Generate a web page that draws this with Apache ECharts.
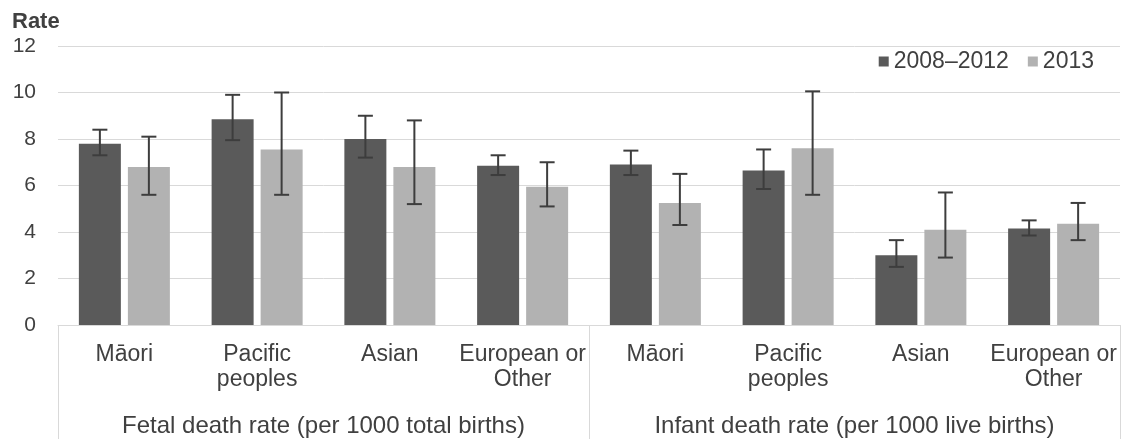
<!DOCTYPE html>
<html>
<head>
<meta charset="utf-8">
<script src="https://cdn.jsdelivr.net/npm/echarts@6/dist/echarts.min.js"></script>
<style>
  html, body { margin: 0; padding: 0; background: #ffffff; }
  #chart { width: 1122px; height: 439px; }
</style>
</head>
<body>
<div id="chart"></div>
<script>
// ---- data ----
var categories = ['Māori', 'Pacific\npeoples', 'Asian', 'European or\nOther',
                  'Māori', 'Pacific\npeoples', 'Asian', 'European or\nOther'];
var groups = ['Fetal death rate (per 1000 total births)', 'Infant death rate (per 1000 live births)'];
var seriesNames = ['2008–2012', '2013'];
var rate0812 = [7.8, 8.85, 8.0, 6.85, 6.9, 6.65, 3.0, 4.15];
var low0812  = [7.3, 7.95, 7.2, 6.45, 6.45, 5.85, 2.5, 3.85];
var high0812 = [8.4, 9.9, 9.0, 7.3, 7.5, 7.55, 3.65, 4.5];
var rate2013 = [6.8, 7.55, 6.8, 5.95, 5.25, 7.6, 4.1, 4.35];
var low2013  = [5.6, 5.6, 5.2, 5.1, 4.3, 5.6, 2.9, 3.65];
var high2013 = [8.1, 10.0, 8.8, 7.0, 6.5, 10.05, 5.7, 5.25];
var yMin = 0, yMax = 12, yStep = 2;

// ---- style ----
var FONT = "'Liberation Sans', Arial, sans-serif";
var TEXT = '#404040';
var GRIDC = '#d9d9d9';
var C1 = '#5a5a5a', C2 = '#b2b2b2';
var BAR_W = 42, GAP = 7;

function errData(lo, hi) {
  return lo.map(function (v, i) { return [i, v, hi[i]]; });
}
function errRender(side) {
  return function (params, api) {
    var i = api.value(0);
    var off = side * (BAR_W + GAP) / 2;
    var p1 = api.coord([i, api.value(1)]);
    var p2 = api.coord([i, api.value(2)]);
    var x = p1[0] + off;
    var cap = 7.5;
    var st = { stroke: '#3d3d3d', lineWidth: 2 };
    return {
      type: 'group',
      children: [
        { type: 'line', shape: { x1: x, y1: p1[1], x2: x, y2: p2[1] }, style: st },
        { type: 'line', shape: { x1: x - cap, y1: p1[1], x2: x + cap, y2: p1[1] }, style: st },
        { type: 'line', shape: { x1: x - cap, y1: p2[1], x2: x + cap, y2: p2[1] }, style: st }
      ]
    };
  };
}

var chart = echarts.init(document.getElementById('chart'));
chart.setOption({
  animation: false,
  backgroundColor: '#ffffff',
  textStyle: { fontFamily: FONT },
  graphic: [{
    type: 'text', left: 12, top: 11,
    style: { text: 'Rate', font: 'bold 22px ' + FONT, fill: TEXT }
  }],
  legend: {
    data: seriesNames,
    right: 28, top: 50, padding: 0,
    itemWidth: 10, itemHeight: 10, itemGap: 19,
    icon: 'rect',
    textStyle: { fontSize: 23, color: TEXT, fontFamily: FONT }
  },
  grid: { left: 58, right: 2, top: 46, bottom: 114, containLabel: false },
  xAxis: [{
    type: 'category', data: categories, position: 'bottom',
    axisLine: { show: true, lineStyle: { color: GRIDC, width: 1 } },
    axisTick: { show: false },
    axisLabel: { interval: 0, margin: 17, fontSize: 23, lineHeight: 25, color: TEXT, fontFamily: FONT }
  }, {
    type: 'category', data: groups, position: 'bottom', offset: 0,
    axisLine: { show: false },
    axisTick: { show: true, length: 114, lineStyle: { color: GRIDC, width: 1 } },
    axisLabel: { interval: 0, margin: 88, fontSize: 24, lineHeight: 26, color: TEXT, fontFamily: FONT },
    splitLine: { show: false }
  }],
  yAxis: {
    type: 'value', min: yMin, max: yMax, interval: yStep,
    axisLine: { show: false }, axisTick: { show: false },
    axisLabel: { margin: 22, fontSize: 21, color: TEXT, fontFamily: FONT },
    splitLine: { lineStyle: { color: GRIDC, width: 1 } }
  },
  series: [{
    name: seriesNames[0], type: 'bar', data: rate0812,
    barWidth: BAR_W, barGap: (GAP / BAR_W * 100).toFixed(1) + '%',
    itemStyle: { color: C1 }
  }, {
    name: seriesNames[1], type: 'bar', data: rate2013,
    barWidth: BAR_W,
    itemStyle: { color: C2 }
  }, {
    type: 'custom', renderItem: errRender(-1), data: errData(low0812, high0812),
    encode: { x: 0, y: [1, 2] }, z: 10
  }, {
    type: 'custom', renderItem: errRender(1), data: errData(low2013, high2013),
    encode: { x: 0, y: [1, 2] }, z: 10
  }]
});
</script>
</body>
</html>
